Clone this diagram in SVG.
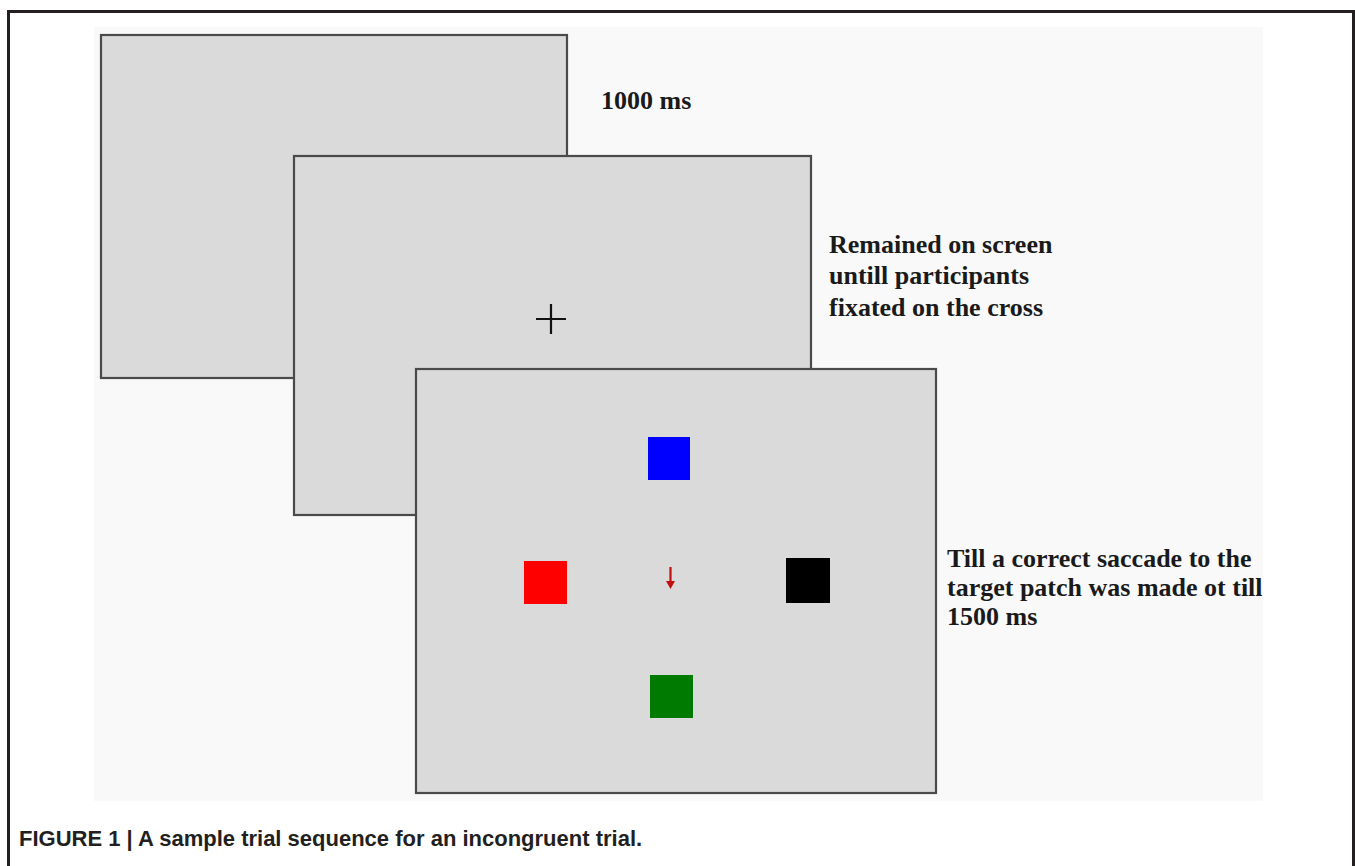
<svg xmlns="http://www.w3.org/2000/svg" width="1355" height="866" viewBox="0 0 1355 866">
  <style>
    .screen { fill: #dadada; stroke: #4a4a4a; stroke-width: 2.2; }
    .label { font-family: "Liberation Serif", "Times New Roman", serif; font-weight: bold; font-size: 26px; fill: #1a1a1a; }
    .caption { font-family: "Liberation Sans", Arial, sans-serif; font-weight: bold; font-size: 22px; fill: #231f20; }
  </style>
  <rect x="0" y="0" width="1355" height="866" fill="#ffffff"/>
  <rect x="94" y="27" width="1169" height="774" fill="#f9f9f9"/>
  <path d="M8.5 866 V11.5 H1353.5 V866" fill="none" stroke="#231f20" stroke-width="3"/>

  <g id="screen1">
    <rect class="screen" x="101" y="35" width="466" height="343"/>
  </g>
  <g id="label1">
    <text class="label" x="601" y="109">1000 ms</text>
  </g>

  <g id="screen2">
    <rect class="screen" x="294" y="156" width="517" height="359"/>
    <path d="M536 319 H566 M551 304 V334" stroke="#111" stroke-width="2.2" fill="none"/>
  </g>
  <g id="label2">
    <text class="label" x="829" y="253">Remained on screen</text>
    <text class="label" x="829" y="284">untill participants</text>
    <text class="label" x="829" y="316">fixated on the cross</text>
  </g>

  <g id="screen3">
    <rect class="screen" x="416" y="369" width="520" height="424"/>
    <rect x="648" y="437" width="42" height="43" fill="#0000ff"/>
    <rect x="524" y="561" width="43" height="43" fill="#ff0000"/>
    <rect x="786" y="558" width="44" height="45" fill="#000000"/>
    <rect x="650" y="675" width="43" height="43" fill="#007a00"/>
    <path d="M670.5 567 V583" stroke="#c01010" stroke-width="2.2"/>
    <path d="M666 581 L675 581 L670.5 589 Z" fill="#c01010"/>
  </g>
  <g id="label3">
    <text class="label" x="947" y="567">Till a correct saccade to the</text>
    <text class="label" x="947" y="596">target patch was made ot till</text>
    <text class="label" x="947" y="625">1500 ms</text>
  </g>

  <g id="connectors"></g>

  <text class="caption" x="19" y="846">FIGURE 1 | A sample trial sequence for an incongruent trial.</text>
</svg>
